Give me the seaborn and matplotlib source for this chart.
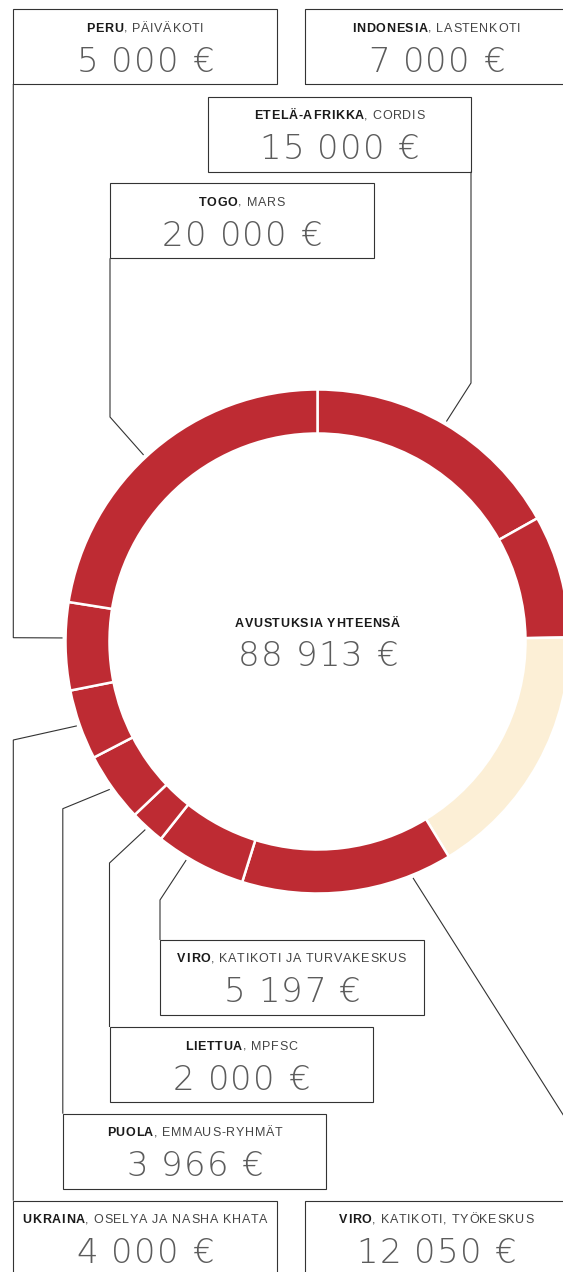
import numpy as np
import matplotlib
matplotlib.use("Agg")
import matplotlib.pyplot as plt
import seaborn as sns
from matplotlib import font_manager
from matplotlib.font_manager import FontProperties
from matplotlib.patches import Rectangle

# grants, clockwise from the top of the ring
countries = ["ETELÄ-AFRIKKA", "INDONESIA", "VIRO", "VIRO", "LIETTUA",
             "PUOLA", "UKRAINA", "PERU", "TOGO"]
targets = ["CORDIS", "LASTENKOTI", "KATIKOTI, TYÖKESKUS",
           "KATIKOTI JA TURVAKESKUS", "MPFSC", "EMMAUS-RYHMÄT",
           "OSELYA JA NASHA KHATA", "PÄIVÄKOTI", "MARS"]
amounts = [15000, 7000, 12050, 5197, 2000, 3966, 4000, 5000, 20000]
total = 88913
total_title = "AVUSTUKSIA YHTEENSÄ"

W, H = 563, 1272
DPI = 100
CX, CY = 317.5, 641.5          # ring centre, pixels from top-left
R_OUT, RING = 252, 44
RED = "#be2b33"
CREAM = "#fcefd6"
LINE = "#333333"
BOX_W, BOX_H = 263.5, 75

# box top-left corners and leader elbows (pixels, y down)
layout = [
    dict(box=(207.5, 96.7), path=[(471, 171.7), (471, 383)]),
    dict(box=(304.5, 9.3), path=[(576, 84), (576, 563)]),
    dict(box=(304.5, 1200.7), path=[(620, 1200), (600, 1173)], angle=-68),
    dict(box=(160, 940), path=[(160, 940), (160, 900)], angle=-121),
    dict(box=(109.5, 1027), path=[(109.5, 1027), (109.5, 863)]),
    dict(box=(62.8, 1113.7), path=[(62.8, 1113.7), (62.8, 808.7)]),
    dict(box=(13.3, 1200.7), path=[(13.3, 1200.7), (13.3, 740)]),
    dict(box=(13.3, 9.3), path=[(13.3, 84), (13.3, 637.7)], angle=179.2),
    dict(box=(110, 183.3), path=[(110, 258.3), (110, 417)], angle=133),
]

sns.set_theme(style="white")
plt.rcParams["font.family"] = ["Liberation Sans", "DejaVu Sans"]

bold = FontProperties(family="Liberation Sans", weight="bold", size=9.0)
regular = FontProperties(family="Liberation Sans", weight="normal", size=9.0)
thin = FontProperties(family="DejaVu Sans", weight=200, size=24.5)


def advances(text, prop):
    font = font_manager.get_font(font_manager.findfont(prop))
    font.set_size(prop.get_size_in_points(), DPI)
    return [font.load_char(ord(c)).linearHoriAdvance / 65536 for c in text]


def tracked(ax, cx, baseline, parts, tracking):
    # parts: list of (text, fontproperties, colour), laid out letter-spaced
    chars = []
    for text, prop, color in parts:
        for c, adv in zip(text, advances(text, prop)):
            chars.append((c, adv, prop, color))
    width = sum(a for _, a, _, _ in chars) + tracking * (len(chars) - 1)
    x = cx - width / 2
    for c, adv, prop, color in chars:
        if c != " ":
            ax.text(x + adv / 2, H - baseline, c, fontproperties=prop,
                    color=color, ha="center", va="baseline")
        x += adv + tracking


def euros(v):
    return f"{v:,}".replace(",", " ") + " €"


fig = plt.figure(figsize=(W / DPI, H / DPI), dpi=DPI)
ax = fig.add_axes([0, 0, 1, 1])

unallocated = total - sum(amounts)
slices = amounts[:2] + [unallocated] + amounts[2:]
colors = [RED, RED, CREAM] + [RED] * (len(amounts) - 2)
ax.pie(slices, colors=colors, startangle=90, counterclock=False,
       center=(CX, H - CY), radius=R_OUT,
       wedgeprops=dict(width=RING, edgecolor="white", linewidth=1.8))
ax.set_xlim(0, W)
ax.set_ylim(0, H)
ax.set_aspect("auto")
ax.set_axis_off()

# mid angle of every grant wedge
bounds = 90 - 360 * np.concatenate([[0], np.cumsum(slices)]) / total
mids = (bounds[:-1] + bounds[1:]) / 2
mids = np.delete(mids, 2)

for i, (country, target, amount) in enumerate(zip(countries, targets, amounts)):
    lay = layout[i]
    left, top = lay["box"]
    ax.add_patch(Rectangle((left, H - top - BOX_H), BOX_W, BOX_H, fill=False,
                           edgecolor=LINE, linewidth=0.8))
    ang = np.deg2rad(lay.get("angle", mids[i]))
    anchor = (CX + 255 * np.cos(ang), CY - 255 * np.sin(ang))
    pts = lay["path"] + [anchor]
    ax.plot([p[0] for p in pts], [H - p[1] for p in pts], color=LINE,
            linewidth=0.8, solid_joinstyle="miter", solid_capstyle="butt")
    cx = left + BOX_W / 2
    tracked(ax, cx, top + 22.5, [(country, bold, "#1a1a1a"),
                                 (", " + target, regular, "#444444")], 0.7)
    tracked(ax, cx, top + 62.5, [(euros(amount), thin, "#5c5c5c")], 1.2)

tracked(ax, CX, 627, [(total_title, bold, "#1a1a1a")], 0.7)
tracked(ax, CX, 665.5, [(euros(total), thin, "#5c5c5c")], 1.2)

fig.savefig("out.png", dpi=DPI)
